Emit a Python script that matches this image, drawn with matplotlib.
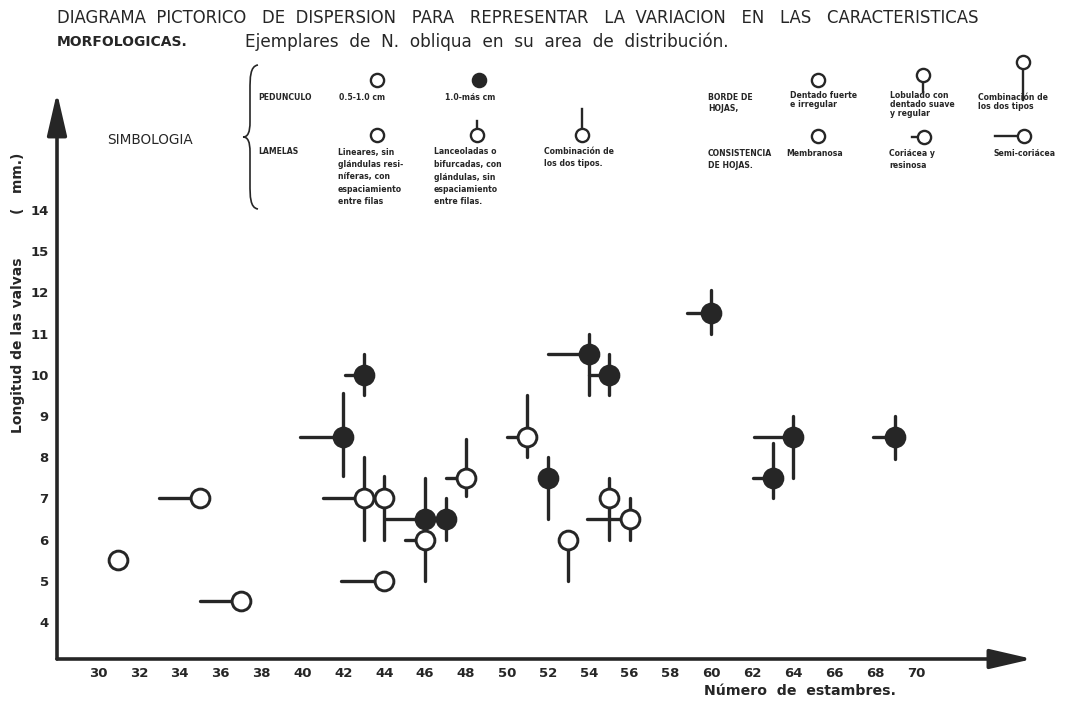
import matplotlib.pyplot as plt
from matplotlib.path import Path
from matplotlib.patches import PathPatch
from matplotlib.lines import Line2D

# ejemplares de N. obliqua
estambres = [31, 35, 37, 42, 43, 43, 44, 44, 46, 46, 47, 48, 51, 52, 53, 54, 55, 55, 56, 60, 63, 64, 69]
valvas = [5.5, 7, 4.5, 8.5, 10, 7, 7, 5, 6.5, 6, 6.5, 7.5, 8.5, 7.5, 6, 10.5, 10, 7, 6.5, 11.5, 7.5, 8.5, 8.5]
pedunculo_largo = [0, 0, 0, 1, 1, 0, 0, 0, 1, 0, 1, 0, 0, 1, 0, 1, 1, 0, 0, 1, 1, 1, 1]
# largo de los palitos: arriba = lamelas, abajo = borde (en mm), izquierda = consistencia (en estambres)
lamelas = [0, 0, 0, 1.05, 0.5, 1.0, 0.55, 0, 1.0, 0, 0.5, 0.95, 1.0, 0.5, 0, 0.5, 0.5, 0.5, 0.5, 0.55, 0.85, 0.5, 0.5]
borde = [0, 0, 0, 0.95, 0.5, 1.0, 1.0, 0, 0.5, 1.0, 0.5, 0.45, 0.5, 1.0, 1.0, 1.0, 0.5, 1.0, 0.5, 0.5, 0.5, 1.0, 0.55]
consistencia = [0, 2, 2, 2.1, 0.9, 2.0, 0, 2.1, 1.9, 1.0, 0, 1.0, 1.0, 0, 0, 2.0, 1.0, 0, 2.1, 1.2, 0.95, 1.9, 1.1]

xticks = list(range(30, 71, 2))
yticks = [4, 5, 6, 7, 8, 9, 10, 11, 12, 13, 14]
ytick_labels = ['4', '5', '6', '7', '8', '9', '10', '11', '12', '15', '14']

ink = '#262626'
W, H = 1081, 707

fig = plt.figure(figsize=(W / 100, H / 100), dpi=100)
fig.patch.set_facecolor('white')

def P(x, y):
    # pixel -> figure fraction
    return x / W, 1 - y / H

# axes placed so that 30 -> px 98 and 4 -> py 622
xlim = (28.0, 75.7)
ylim = (3.1, 16.85)
x0, y0 = P(57, 659)
x1, y1 = P(57 + (xlim[1] - xlim[0]) * 20.45, 659 - (ylim[1] - ylim[0]) * 41.2)
ax = fig.add_axes([x0, y0, x1 - x0, y1 - y0])
ax.set_xlim(xlim)
ax.set_ylim(ylim)
for s in ax.spines.values():
    s.set_visible(False)
ax.patch.set_alpha(0)

# arrows for axes
arr = dict(arrowstyle='-|>,head_length=1.3,head_width=0.3', lw=2.6, color=ink,
           shrinkA=0, shrinkB=0, mutation_scale=20)
ax.annotate('', xy=(1, 0), xytext=(0, 0), xycoords='axes fraction', arrowprops=arr)
ax.annotate('', xy=(0, 1), xytext=(0, 0), xycoords='axes fraction', arrowprops=arr)

ax.set_xticks(xticks)
ax.set_xticklabels([str(t) for t in xticks])
ax.set_yticks(yticks)
ax.set_yticklabels(ytick_labels)
ax.tick_params(length=0, labelsize=9.5, colors=ink)
ax.tick_params(axis='x', pad=6)
ax.tick_params(axis='y', pad=6)
for lab in ax.get_xticklabels() + ax.get_yticklabels():
    lab.set_fontweight('bold')

fig.text(*P(800, 691), 'Número  de  estambres.', fontsize=10.2, fontweight='bold', color=ink,
         ha='center', va='center')
fig.text(*P(18, 345), 'Longitud de las valvas', fontsize=10, fontweight='bold', color=ink,
         ha='center', va='center', rotation=90)
fig.text(*P(18, 183), '(   mm.)', fontsize=10, fontweight='bold', color=ink,
         ha='center', va='center', rotation=90)

# pictorial glyphs
for i in range(len(estambres)):
    x, y = estambres[i], valvas[i]
    if lamelas[i]:
        ax.plot([x, x], [y, y + lamelas[i]], color=ink, lw=2.4, solid_capstyle='round', zorder=2)
    if borde[i]:
        ax.plot([x, x], [y, y - borde[i]], color=ink, lw=2.4, solid_capstyle='round', zorder=2)
    if consistencia[i]:
        ax.plot([x, x - consistencia[i]], [y, y], color=ink, lw=2.4, solid_capstyle='round', zorder=2)
    fc = ink if pedunculo_largo[i] else 'white'
    ax.plot(x, y, 'o', ms=13.5, mfc=fc, mec=ink, mew=2.1, zorder=3 if pedunculo_largo[i] else 4)

# title
fig.text(*P(57, 18), 'DIAGRAMA  PICTORICO   DE  DISPERSION   PARA   REPRESENTAR   LA  VARIACION   EN   LAS   CARACTERISTICAS',
         fontsize=11.9, color=ink, va='center', ha='left')
fig.text(*P(57, 42), 'MORFOLOGICAS.', fontsize=10, fontweight='bold', color=ink, va='center', ha='left')
fig.text(*P(245, 42), 'Ejemplares  de  N.  obliqua  en  su  area  de  distribución.',
         fontsize=12.2, color=ink, va='center', ha='left')

# legend (simbologia)
fig.text(*P(107, 140), 'SIMBOLOGIA', fontsize=9.8, color=ink, va='center', ha='left')

verts = [P(258, 65), P(250, 66), P(250, 78), P(250, 90),
         P(250, 122),
         P(250, 132), P(248, 137), P(243, 137),
         P(248, 137), P(250, 142), P(250, 152),
         P(250, 184),
         P(250, 196), P(250, 208), P(258, 209)]
codes = [Path.MOVETO, Path.CURVE4, Path.CURVE4, Path.CURVE4,
         Path.LINETO,
         Path.CURVE4, Path.CURVE4, Path.CURVE4,
         Path.CURVE4, Path.CURVE4, Path.CURVE4,
         Path.LINETO,
         Path.CURVE4, Path.CURVE4, Path.CURVE4]
fig.add_artist(PathPatch(Path(verts, codes), transform=fig.transFigure, fill=False, lw=1.2, ec=ink))

def leg_glyph(cx, cy, filled=False, top=0, bottom=0, left=0):
    for dx, dy in [(0, -top), (0, bottom), (-left, 0)]:
        if dx or dy:
            a, b = P(cx, cy)
            c, d = P(cx + dx, cy + dy)
            fig.add_artist(Line2D([a, c], [b, d], transform=fig.transFigure, color=ink, lw=1.7))
    a, b = P(cx, cy)
    fig.add_artist(Line2D([a], [b], transform=fig.transFigure, marker='o', ms=9.5, mew=1.7,
                          mec=ink, mfc=ink if filled else 'white'))

small = dict(fontsize=5.6, color=ink, va='center', ha='left', fontweight='bold')

def leg_text(x, y, lines, step=11.5):
    for k, t in enumerate(lines):
        fig.text(*P(x, y + k * step), t, **small)

leg_text(258, 97, ['PEDUNCULO'])
leg_glyph(377, 80)
leg_text(339, 97, ['0.5-1.0 cm'])
leg_glyph(479, 80, filled=True)
leg_text(445, 97, ['1.0-más cm'])

leg_text(258, 152, ['LAMELAS'])
leg_glyph(377, 135)
leg_text(338, 152, ['Lineares, sin', 'glándulas resi-', 'níferas, con', 'espaciamiento', 'entre filas'], step=12.5)
leg_glyph(477, 135, top=14)
leg_text(434, 152, ['Lanceoladas o', 'bifurcadas, con', 'glándulas, sin', 'espaciamiento', 'entre filas.'], step=12.5)
leg_glyph(582, 135, top=26)
leg_text(544, 152, ['Combinación de', 'los dos tipos.'])

leg_text(708, 97, ['BORDE DE', 'HOJAS,'])
leg_glyph(818, 80)
leg_text(790, 95, ['Dentado fuerte', 'e irregular'], step=9.5)
leg_glyph(923, 75, bottom=17)
leg_text(890, 95, ['Lobulado con', 'dentado suave', 'y regular'], step=9.5)
leg_glyph(1023, 62, bottom=38)
leg_text(978, 97, ['Combinación de', 'los dos tipos'], step=9.5)

leg_text(708, 153, ['CONSISTENCIA', 'DE HOJAS.'], step=13)
leg_glyph(818, 136)
leg_text(786, 153, ['Membranosa'])
leg_glyph(924, 137, left=12)
leg_text(889, 153, ['Coriácea y', 'resinosa'], step=13)
leg_glyph(1024, 136, left=29)
leg_text(993, 153, ['Semi-coriácea'])

fig.savefig('out.png', dpi=100, facecolor='white')
